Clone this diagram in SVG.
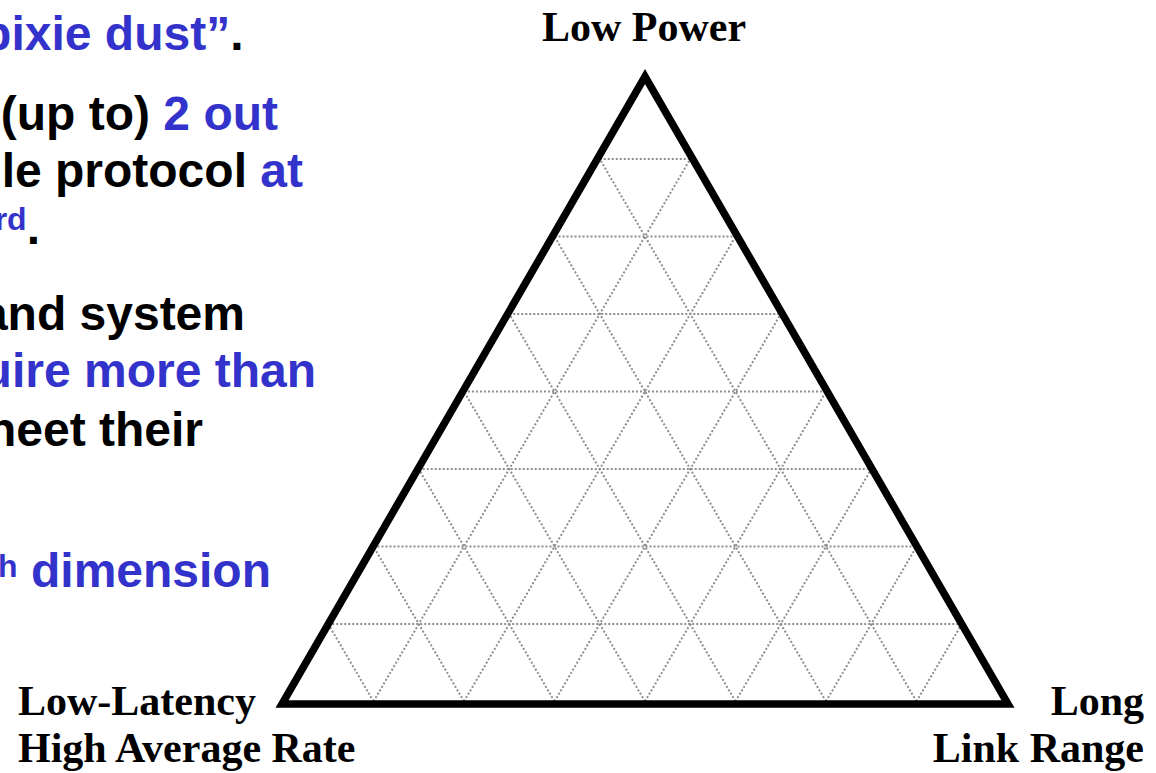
<svg xmlns="http://www.w3.org/2000/svg" width="1156" height="773" viewBox="0 0 1156 773">
<style>
  .grid line { stroke: #8e8e8e; stroke-width: 2; stroke-dasharray: 2 2; fill: none; }
  .tri { fill: none; stroke: #000; stroke-width: 7.5; stroke-linejoin: miter; }
  .lbl { font-family: "Liberation Serif", "Times New Roman", serif; font-weight: bold; font-size: 42px; fill: #000; }
  .body { font-family: "Liberation Sans", Arial, sans-serif; font-weight: bold; font-size: 48px; fill: #000; }
  .bl { fill: #3333CC; }
  .sup { font-size: 32px; }
</style>
<rect width="1156" height="773" fill="#fff"/>
<g id="text-left" class="body">
  <text x="243.5" y="50" text-anchor="end"><tspan class="bl">pixie dust”</tspan>.</text>
  <text x="278" y="130" text-anchor="end">(up to) <tspan class="bl">2 out</tspan></text>
  <text x="303" y="187" text-anchor="end">le protocol <tspan class="bl">at</tspan></text>
  <text x="40" y="244" text-anchor="end"><tspan class="bl sup" dy="-14">rd</tspan><tspan dy="14">.</tspan></text>
  <text x="245" y="330" text-anchor="end">and system</text>
  <text x="316" y="387" text-anchor="end" class="bl">uire more than</text>
  <text x="203" y="446" text-anchor="end">neet their</text>
  <text x="271" y="587" text-anchor="end" class="bl"><tspan class="sup" dy="-10">h</tspan><tspan dy="10"> dimension</tspan></text>
</g>
<g id="grid" class="grid">
  <line x1="328.25" y1="624" x2="961.75" y2="624"/>
  <line x1="373.5" y1="546.5" x2="916.5" y2="546.5"/>
  <line x1="418.75" y1="469" x2="871.25" y2="469"/>
  <line x1="464" y1="391.5" x2="826" y2="391.5"/>
  <line x1="509.25" y1="314" x2="780.75" y2="314"/>
  <line x1="554.5" y1="236.5" x2="735.5" y2="236.5"/>
  <line x1="599.75" y1="159" x2="690.25" y2="159"/>
  <line x1="373.5" y1="701.5" x2="690.25" y2="159"/>
  <line x1="464" y1="701.5" x2="735.5" y2="236.5"/>
  <line x1="554.5" y1="701.5" x2="780.75" y2="314"/>
  <line x1="645" y1="701.5" x2="826" y2="391.5"/>
  <line x1="735.5" y1="701.5" x2="871.25" y2="469"/>
  <line x1="826" y1="701.5" x2="916.5" y2="546.5"/>
  <line x1="916.5" y1="701.5" x2="961.75" y2="624"/>
  <line x1="373.5" y1="701.5" x2="328.25" y2="624"/>
  <line x1="464" y1="701.5" x2="373.5" y2="546.5"/>
  <line x1="554.5" y1="701.5" x2="418.75" y2="469"/>
  <line x1="645" y1="701.5" x2="464" y2="391.5"/>
  <line x1="735.5" y1="701.5" x2="509.25" y2="314"/>
  <line x1="826" y1="701.5" x2="554.5" y2="236.5"/>
  <line x1="916.5" y1="701.5" x2="599.75" y2="159"/>
</g>
<g id="triangle">
  <polygon class="tri" points="282,704 1008,704 645,76.5"/>
</g>
<g id="labels" class="lbl">
  <text id="lbl-top" x="644" y="41" text-anchor="middle">Low Power</text>
  <text id="lbl-left" x="18" y="715">Low-Latency<tspan x="18" y="762">High Average Rate</tspan></text>
  <text id="lbl-right" x="1144" y="715" text-anchor="end">Long<tspan x="1144" y="762">Link Range</tspan></text>
</g>
</svg>
